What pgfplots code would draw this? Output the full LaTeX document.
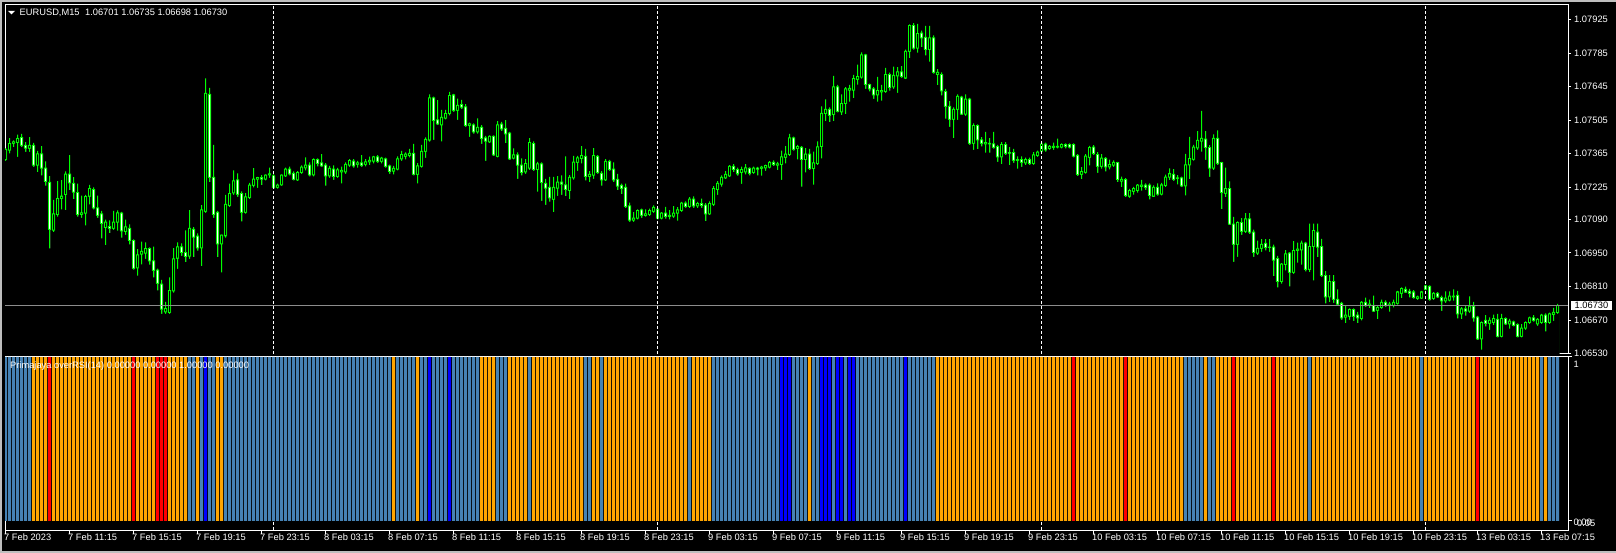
\documentclass[border=0pt]{standalone}
\usepackage{fontspec}
\setmainfont{Liberation Sans}
\usepackage{pgfplots}
\usepackage{pgfplotstable}
\pgfplotsset{compat=1.18}

\definecolor{mtlime}{RGB}{0,255,0}
\definecolor{mtsteel}{RGB}{70,130,180}
\definecolor{mtorange}{RGB}{255,165,0}
\definecolor{mtred}{RGB}{255,0,0}
\definecolor{mtblue}{RGB}{0,0,255}
\definecolor{mtgrid}{RGB}{140,140,140}
\definecolor{mtframe}{RGB}{190,190,190}
\newcommand\mt{\fontsize{9.3bp}{11bp}\selectfont}

% EURUSD M15, bar 0 = 7 Feb 07:15 ... bar 388 = 13 Feb 08:15
% k = overRSI buffer that is set (0 steel blue, 1 orange, 2 red, 3 blue), v = its value
\pgfplotstableread{
i o h l c k v
0 1.07340 1.07385 1.07337 1.07383 0 1
1 1.07380 1.07428 1.07368 1.07407 0 1
2 1.07408 1.07418 1.07394 1.07414 0 1
3 1.07411 1.07442 1.07354 1.07428 0 1
4 1.07432 1.07445 1.07394 1.07400 0 1
5 1.07400 1.07411 1.07375 1.07388 0 1
6 1.07387 1.07432 1.07375 1.07400 0 1
7 1.07400 1.07408 1.07312 1.07317 1 1
8 1.07317 1.07374 1.07290 1.07364 1 1
9 1.07364 1.07394 1.07276 1.07304 1 1
10 1.07304 1.07331 1.07233 1.07248 1 1
11 1.07245 1.07269 1.06971 1.07049 2 1
12 1.07045 1.07170 1.07039 1.07113 1 1
13 1.07110 1.07248 1.07104 1.07177 1 1
14 1.07177 1.07252 1.07134 1.07187 1 1
15 1.07194 1.07289 1.07131 1.07279 1 1
16 1.07279 1.07357 1.07215 1.07243 1 1
17 1.07241 1.07265 1.07177 1.07204 1 1
18 1.07202 1.07238 1.07104 1.07110 1 1
19 1.07110 1.07187 1.07099 1.07118 1 1
20 1.07117 1.07191 1.07067 1.07185 1 1
21 1.07187 1.07232 1.07155 1.07219 1 1
22 1.07215 1.07222 1.07134 1.07138 1 1
23 1.07138 1.07187 1.07099 1.07107 1 1
24 1.07113 1.07124 1.07013 1.07073 1 1
25 1.07056 1.07087 1.06985 1.07079 1 1
26 1.07060 1.07084 1.07035 1.07053 1 1
27 1.07053 1.07124 1.07049 1.07079 1 1
28 1.07079 1.07126 1.07045 1.07118 1 1
29 1.07117 1.07120 1.07016 1.07042 1 1
30 1.07039 1.07087 1.07028 1.07059 1 1
31 1.07053 1.07067 1.06988 1.07002 1 1
32 1.07002 1.07005 1.06883 1.06886 2 1
33 1.06888 1.06964 1.06857 1.06942 1 1
34 1.06945 1.06995 1.06905 1.06957 1 1
35 1.06949 1.06992 1.06928 1.06968 1 1
36 1.06968 1.06971 1.06903 1.06917 1 1
37 1.06917 1.06974 1.06850 1.06877 1 1
38 1.06878 1.06883 1.06796 1.06823 2 1
39 1.06820 1.06836 1.06698 1.06715 2 1
40 1.06704 1.06744 1.06698 1.06718 2 1
41 1.06701 1.06846 1.06698 1.06793 1 1
42 1.06792 1.06968 1.06786 1.06925 1 1
43 1.06928 1.06992 1.06886 1.06976 1 1
44 1.06976 1.06988 1.06940 1.06952 1 1
45 1.06951 1.07042 1.06914 1.06935 1 1
46 1.06937 1.07127 1.06928 1.07053 0 1
47 1.07049 1.07056 1.06935 1.07016 0 1
48 1.07020 1.07030 1.06962 1.06971 1 1
49 1.06971 1.07148 1.06897 1.07130 0 1
50 1.07124 1.07677 1.07120 1.07617 3 1
51 1.07613 1.07638 1.07248 1.07266 0 1
52 1.07266 1.07400 1.07099 1.07110 0 1
53 1.07120 1.07124 1.06935 1.06988 1 1
54 1.06988 1.07025 1.06871 1.07025 1 1
55 1.07022 1.07191 1.07016 1.07153 0 1
56 1.07148 1.07238 1.07144 1.07198 0 1
57 1.07201 1.07293 1.07195 1.07251 0 1
58 1.07255 1.07280 1.07187 1.07195 0 1
59 1.07198 1.07205 1.07084 1.07120 0 1
60 1.07120 1.07198 1.07116 1.07184 0 1
61 1.07181 1.07241 1.07177 1.07233 0 1
62 1.07232 1.07302 1.07226 1.07259 0 1
63 1.07259 1.07266 1.07224 1.07265 0 1
64 1.07265 1.07273 1.07236 1.07259 0 1
65 1.07259 1.07276 1.07255 1.07275 0 1
66 1.07276 1.07304 1.07266 1.07280 0 1
67 1.07272 1.07276 1.07219 1.07224 0 1
68 1.07224 1.07238 1.07221 1.07233 0 1
69 1.07235 1.07276 1.07232 1.07275 0 1
70 1.07272 1.07304 1.07269 1.07300 0 1
71 1.07300 1.07309 1.07276 1.07280 0 1
72 1.07283 1.07289 1.07255 1.07258 0 1
73 1.07255 1.07290 1.07252 1.07286 0 1
74 1.07286 1.07314 1.07283 1.07309 0 1
75 1.07306 1.07347 1.07297 1.07317 0 1
76 1.07317 1.07326 1.07272 1.07276 0 1
77 1.07276 1.07343 1.07272 1.07340 0 1
78 1.07340 1.07343 1.07314 1.07323 0 1
79 1.07326 1.07361 1.07312 1.07314 0 1
80 1.07317 1.07323 1.07233 1.07272 0 1
81 1.07272 1.07312 1.07266 1.07303 0 1
82 1.07300 1.07314 1.07258 1.07269 0 1
83 1.07269 1.07303 1.07266 1.07297 0 1
84 1.07289 1.07309 1.07243 1.07295 0 1
85 1.07289 1.07326 1.07283 1.07320 0 1
86 1.07317 1.07340 1.07312 1.07336 0 1
87 1.07334 1.07340 1.07309 1.07314 0 1
88 1.07320 1.07333 1.07309 1.07326 0 1
89 1.07326 1.07357 1.07312 1.07316 0 1
90 1.07320 1.07340 1.07314 1.07331 0 1
91 1.07331 1.07350 1.07319 1.07337 0 1
92 1.07334 1.07354 1.07326 1.07351 0 1
93 1.07351 1.07357 1.07329 1.07333 0 1
94 1.07333 1.07349 1.07326 1.07346 0 1
95 1.07343 1.07346 1.07309 1.07312 0 1
96 1.07314 1.07317 1.07283 1.07290 0 1
97 1.07292 1.07312 1.07280 1.07303 1 1
98 1.07300 1.07351 1.07297 1.07343 0 1
99 1.07343 1.07374 1.07337 1.07361 0 1
100 1.07354 1.07368 1.07343 1.07363 0 1
101 1.07357 1.07383 1.07351 1.07366 0 1
102 1.07366 1.07404 1.07276 1.07278 0 1
103 1.07278 1.07323 1.07243 1.07314 1 1
104 1.07312 1.07400 1.07309 1.07374 0 1
105 1.07374 1.07431 1.07349 1.07425 0 1
106 1.07422 1.07610 1.07417 1.07598 3 1
107 1.07598 1.07601 1.07425 1.07503 0 1
108 1.07506 1.07587 1.07486 1.07489 0 1
109 1.07485 1.07546 1.07418 1.07517 0 1
110 1.07513 1.07546 1.07510 1.07532 0 1
111 1.07532 1.07621 1.07527 1.07607 3 1
112 1.07610 1.07613 1.07542 1.07546 0 1
113 1.07546 1.07593 1.07508 1.07567 0 1
114 1.07570 1.07588 1.07553 1.07559 0 1
115 1.07560 1.07570 1.07479 1.07482 0 1
116 1.07482 1.07493 1.07437 1.07489 0 1
117 1.07485 1.07489 1.07451 1.07456 0 1
118 1.07456 1.07510 1.07451 1.07475 0 1
119 1.07475 1.07482 1.07408 1.07428 1 1
120 1.07431 1.07437 1.07337 1.07417 1 1
121 1.07414 1.07439 1.07411 1.07437 1 1
122 1.07437 1.07439 1.07357 1.07360 1 1
123 1.07354 1.07499 1.07351 1.07485 0 1
124 1.07488 1.07496 1.07461 1.07468 0 1
125 1.07471 1.07503 1.07411 1.07448 0 1
126 1.07451 1.07454 1.07340 1.07343 1 1
127 1.07346 1.07385 1.07343 1.07360 1 1
128 1.07360 1.07368 1.07262 1.07317 1 1
129 1.07317 1.07343 1.07276 1.07286 1 1
130 1.07289 1.07340 1.07283 1.07323 1 1
131 1.07305 1.07428 1.07298 1.07411 0 1
132 1.07407 1.07414 1.07295 1.07298 1 1
133 1.07298 1.07329 1.07208 1.07322 1 1
134 1.07322 1.07326 1.07170 1.07244 1 1
135 1.07241 1.07258 1.07153 1.07221 1 1
136 1.07224 1.07266 1.07167 1.07180 1 1
137 1.07174 1.07266 1.07123 1.07224 1 1
138 1.07221 1.07269 1.07191 1.07246 1 1
139 1.07246 1.07272 1.07195 1.07238 1 1
140 1.07235 1.07352 1.07190 1.07215 1 1
141 1.07210 1.07273 1.07177 1.07266 1 1
142 1.07264 1.07354 1.07259 1.07330 1 1
143 1.07329 1.07354 1.07295 1.07347 1 1
144 1.07344 1.07394 1.07326 1.07357 1 1
145 1.07354 1.07383 1.07255 1.07269 0 1
146 1.07269 1.07290 1.07248 1.07278 0 1
147 1.07275 1.07386 1.07262 1.07357 1 1
148 1.07354 1.07357 1.07283 1.07286 1 1
149 1.07283 1.07290 1.07234 1.07255 0 1
150 1.07255 1.07340 1.07252 1.07333 1 1
151 1.07333 1.07337 1.07295 1.07298 1 1
152 1.07300 1.07326 1.07248 1.07255 1 1
153 1.07258 1.07278 1.07215 1.07229 1 1
154 1.07232 1.07238 1.07198 1.07219 1 1
155 1.07224 1.07238 1.07139 1.07144 1 1
156 1.07147 1.07158 1.07082 1.07087 1 1
157 1.07087 1.07119 1.07082 1.07096 1 1
158 1.07096 1.07130 1.07093 1.07127 1 1
159 1.07130 1.07133 1.07099 1.07107 1 1
160 1.07106 1.07130 1.07104 1.07113 1 1
161 1.07110 1.07133 1.07106 1.07127 1 1
162 1.07124 1.07147 1.07120 1.07141 1 1
163 1.07133 1.07136 1.07092 1.07096 1 1
164 1.07096 1.07119 1.07093 1.07116 1 1
165 1.07116 1.07141 1.07096 1.07102 1 1
166 1.07102 1.07127 1.07093 1.07107 1 1
167 1.07104 1.07144 1.07099 1.07116 1 1
168 1.07116 1.07139 1.07087 1.07130 1 1
169 1.07127 1.07161 1.07124 1.07158 1 1
170 1.07158 1.07163 1.07141 1.07144 1 1
171 1.07144 1.07181 1.07139 1.07175 0 1
172 1.07175 1.07184 1.07141 1.07147 1 1
173 1.07147 1.07161 1.07139 1.07156 1 1
174 1.07156 1.07175 1.07141 1.07148 1 1
175 1.07150 1.07156 1.07085 1.07113 1 1
176 1.07113 1.07163 1.07110 1.07156 1 1
177 1.07153 1.07227 1.07148 1.07219 0 1
178 1.07215 1.07248 1.07195 1.07241 0 1
179 1.07238 1.07272 1.07229 1.07266 0 1
180 1.07264 1.07290 1.07261 1.07278 0 1
181 1.07272 1.07315 1.07269 1.07312 0 1
182 1.07312 1.07319 1.07290 1.07298 0 1
183 1.07298 1.07305 1.07275 1.07281 0 1
184 1.07286 1.07309 1.07241 1.07298 0 1
185 1.07289 1.07319 1.07281 1.07306 0 1
186 1.07303 1.07306 1.07276 1.07283 0 1
187 1.07286 1.07309 1.07283 1.07305 0 1
188 1.07305 1.07308 1.07276 1.07300 0 1
189 1.07303 1.07312 1.07275 1.07309 0 1
190 1.07306 1.07317 1.07295 1.07315 0 1
191 1.07309 1.07332 1.07306 1.07329 0 1
192 1.07329 1.07335 1.07315 1.07319 0 1
193 1.07317 1.07329 1.07298 1.07322 0 1
194 1.07319 1.07376 1.07258 1.07352 3 1
195 1.07349 1.07394 1.07326 1.07363 3 1
196 1.07361 1.07445 1.07357 1.07431 3 1
197 1.07431 1.07434 1.07380 1.07383 0 1
198 1.07386 1.07400 1.07343 1.07394 0 1
199 1.07391 1.07394 1.07229 1.07340 0 1
200 1.07340 1.07386 1.07289 1.07363 0 1
201 1.07363 1.07383 1.07298 1.07302 1 1
202 1.07302 1.07371 1.07238 1.07326 0 1
203 1.07323 1.07414 1.07319 1.07393 0 1
204 1.07394 1.07560 1.07347 1.07533 3 1
205 1.07532 1.07590 1.07503 1.07550 3 1
206 1.07550 1.07556 1.07499 1.07525 3 1
207 1.07528 1.07688 1.07503 1.07644 0 1
208 1.07644 1.07650 1.07539 1.07542 3 1
209 1.07539 1.07610 1.07528 1.07574 3 1
210 1.07574 1.07641 1.07532 1.07636 0 1
211 1.07630 1.07650 1.07584 1.07638 3 1
212 1.07630 1.07692 1.07599 1.07678 3 1
213 1.07675 1.07735 1.07655 1.07687 0 1
214 1.07685 1.07786 1.07681 1.07778 0 1
215 1.07778 1.07780 1.07638 1.07653 0 1
216 1.07653 1.07655 1.07627 1.07636 0 1
217 1.07636 1.07641 1.07596 1.07610 0 1
218 1.07610 1.07684 1.07584 1.07628 0 1
219 1.07623 1.07650 1.07589 1.07628 0 1
220 1.07624 1.07721 1.07621 1.07695 0 1
221 1.07695 1.07701 1.07630 1.07641 0 1
222 1.07644 1.07726 1.07638 1.07692 0 1
223 1.07690 1.07724 1.07621 1.07707 0 1
224 1.07707 1.07729 1.07684 1.07687 0 1
225 1.07681 1.07797 1.07678 1.07792 3 1
226 1.07792 1.07903 1.07766 1.07900 0 1
227 1.07900 1.07908 1.07802 1.07806 0 1
228 1.07806 1.07905 1.07789 1.07866 0 1
229 1.07868 1.07877 1.07812 1.07849 0 1
230 1.07851 1.07897 1.07778 1.07800 0 1
231 1.07800 1.07897 1.07752 1.07849 0 1
232 1.07849 1.07857 1.07701 1.07705 0 1
233 1.07695 1.07716 1.07653 1.07704 1 1
234 1.07695 1.07702 1.07610 1.07627 1 1
235 1.07624 1.07633 1.07513 1.07562 1 1
236 1.07562 1.07582 1.07479 1.07508 1 1
237 1.07508 1.07556 1.07432 1.07550 1 1
238 1.07550 1.07610 1.07508 1.07604 1 1
239 1.07601 1.07604 1.07528 1.07530 1 1
240 1.07530 1.07610 1.07525 1.07593 1 1
241 1.07593 1.07596 1.07404 1.07408 1 1
242 1.07408 1.07489 1.07383 1.07482 1 1
243 1.07482 1.07485 1.07386 1.07423 1 1
244 1.07423 1.07432 1.07397 1.07408 1 1
245 1.07406 1.07454 1.07371 1.07411 1 1
246 1.07408 1.07428 1.07371 1.07406 1 1
247 1.07406 1.07454 1.07388 1.07391 1 1
248 1.07394 1.07400 1.07333 1.07352 1 1
249 1.07352 1.07411 1.07323 1.07403 1 1
250 1.07403 1.07411 1.07361 1.07366 1 1
251 1.07366 1.07390 1.07319 1.07369 1 1
252 1.07369 1.07383 1.07329 1.07337 1 1
253 1.07336 1.07352 1.07305 1.07340 1 1
254 1.07340 1.07352 1.07312 1.07329 1 1
255 1.07326 1.07346 1.07319 1.07340 1 1
256 1.07340 1.07346 1.07319 1.07323 1 1
257 1.07323 1.07369 1.07320 1.07360 1 1
258 1.07357 1.07376 1.07354 1.07371 1 1
259 1.07376 1.07412 1.07372 1.07405 1 1
260 1.07405 1.07409 1.07376 1.07381 1 1
261 1.07386 1.07398 1.07383 1.07395 1 1
262 1.07390 1.07409 1.07383 1.07395 1 1
263 1.07392 1.07426 1.07389 1.07395 1 1
264 1.07392 1.07406 1.07389 1.07403 1 1
265 1.07403 1.07406 1.07389 1.07395 1 1
266 1.07403 1.07406 1.07389 1.07392 1 1
267 1.07403 1.07406 1.07352 1.07355 2 1
268 1.07358 1.07361 1.07273 1.07277 1 1
269 1.07278 1.07307 1.07261 1.07290 1 1
270 1.07287 1.07361 1.07284 1.07355 1 1
271 1.07349 1.07395 1.07318 1.07390 1 1
272 1.07392 1.07398 1.07361 1.07365 1 1
273 1.07361 1.07369 1.07287 1.07312 1 1
274 1.07312 1.07361 1.07304 1.07346 1 1
275 1.07345 1.07348 1.07293 1.07310 1 1
276 1.07310 1.07338 1.07301 1.07319 1 1
277 1.07317 1.07335 1.07312 1.07329 1 1
278 1.07327 1.07329 1.07248 1.07256 1 1
279 1.07250 1.07267 1.07227 1.07258 1 1
280 1.07256 1.07261 1.07185 1.07190 2 1
281 1.07187 1.07216 1.07182 1.07210 1 1
282 1.07207 1.07224 1.07196 1.07219 1 1
283 1.07210 1.07236 1.07204 1.07233 1 1
284 1.07227 1.07253 1.07213 1.07233 1 1
285 1.07233 1.07239 1.07216 1.07224 1 1
286 1.07233 1.07239 1.07176 1.07190 1 1
287 1.07187 1.07230 1.07185 1.07224 1 1
288 1.07224 1.07239 1.07192 1.07196 1 1
289 1.07196 1.07241 1.07193 1.07234 1 1
290 1.07231 1.07275 1.07227 1.07267 1 1
291 1.07267 1.07301 1.07256 1.07281 1 1
292 1.07278 1.07298 1.07253 1.07258 1 1
293 1.07261 1.07273 1.07239 1.07264 1 1
294 1.07264 1.07267 1.07227 1.07230 1 1
295 1.07230 1.07362 1.07193 1.07318 0 1
296 1.07318 1.07433 1.07261 1.07344 0 1
297 1.07341 1.07400 1.07338 1.07392 0 1
298 1.07389 1.07457 1.07383 1.07420 0 1
299 1.07417 1.07542 1.07376 1.07429 0 1
300 1.07426 1.07457 1.07341 1.07390 1 1
301 1.07390 1.07398 1.07270 1.07304 0 1
302 1.07304 1.07443 1.07298 1.07429 0 1
303 1.07429 1.07460 1.07319 1.07324 1 1
304 1.07327 1.07329 1.07135 1.07202 1 1
305 1.07199 1.07304 1.07185 1.07219 1 1
306 1.07219 1.07247 1.07068 1.07071 1 1
307 1.07071 1.07099 1.06915 1.06986 2 1
308 1.06986 1.07080 1.06936 1.07077 1 1
309 1.07077 1.07094 1.07028 1.07040 1 1
310 1.07040 1.07114 1.07035 1.07092 1 1
311 1.07092 1.07114 1.07031 1.07037 1 1
312 1.07037 1.07045 1.06936 1.06952 1 1
313 1.06949 1.07000 1.06943 1.06969 1 1
314 1.06969 1.07006 1.06957 1.06986 1 1
315 1.06990 1.07006 1.06963 1.06972 1 1
316 1.06972 1.07006 1.06957 1.06974 1 1
317 1.06974 1.06983 1.06855 1.06920 2 1
318 1.06926 1.06936 1.06808 1.06830 1 1
319 1.06830 1.06906 1.06824 1.06903 1 1
320 1.06901 1.06960 1.06879 1.06946 1 1
321 1.06949 1.06952 1.06813 1.06869 1 1
322 1.06869 1.06997 1.06865 1.06960 1 1
323 1.06960 1.06991 1.06912 1.06966 1 1
324 1.06963 1.07000 1.06903 1.06991 1 1
325 1.06991 1.06994 1.06875 1.06881 1 1
326 1.06881 1.07071 1.06872 1.06977 0 1
327 1.06977 1.07071 1.06838 1.07043 1 1
328 1.07037 1.07071 1.06935 1.06974 1 1
329 1.06977 1.07007 1.06851 1.06855 1 1
330 1.06855 1.06872 1.06742 1.06767 1 1
331 1.06767 1.06855 1.06747 1.06830 1 1
332 1.06830 1.06855 1.06744 1.06756 1 1
333 1.06756 1.06796 1.06730 1.06736 1 1
334 1.06739 1.06744 1.06673 1.06679 1 1
335 1.06682 1.06730 1.06659 1.06690 1 1
336 1.06685 1.06716 1.06673 1.06713 1 1
337 1.06713 1.06716 1.06668 1.06685 1 1
338 1.06690 1.06702 1.06659 1.06679 1 1
339 1.06676 1.06747 1.06671 1.06744 1 1
340 1.06744 1.06761 1.06727 1.06730 1 1
341 1.06730 1.06753 1.06722 1.06736 1 1
342 1.06730 1.06770 1.06705 1.06707 1 1
343 1.06710 1.06727 1.06676 1.06722 1 1
344 1.06722 1.06753 1.06719 1.06744 1 1
345 1.06744 1.06750 1.06727 1.06730 1 1
346 1.06730 1.06744 1.06707 1.06736 1 1
347 1.06730 1.06753 1.06725 1.06744 1 1
348 1.06739 1.06790 1.06736 1.06787 1 1
349 1.06781 1.06804 1.06764 1.06801 1 1
350 1.06798 1.06807 1.06784 1.06787 1 1
351 1.06790 1.06798 1.06767 1.06781 1 1
352 1.06787 1.06793 1.06761 1.06764 1 1
353 1.06759 1.06770 1.06756 1.06767 1 1
354 1.06761 1.06790 1.06759 1.06787 0 1
355 1.06798 1.06815 1.06796 1.06813 1 1
356 1.06810 1.06813 1.06753 1.06756 1 1
357 1.06759 1.06784 1.06756 1.06781 1 1
358 1.06781 1.06784 1.06764 1.06767 1 1
359 1.06764 1.06770 1.06710 1.06750 1 1
360 1.06750 1.06787 1.06744 1.06761 1 1
361 1.06753 1.06787 1.06750 1.06770 1 1
362 1.06767 1.06796 1.06753 1.06770 1 1
363 1.06773 1.06790 1.06679 1.06696 1 1
364 1.06696 1.06722 1.06676 1.06716 1 1
365 1.06716 1.06730 1.06690 1.06707 1 1
366 1.06707 1.06767 1.06702 1.06727 1 1
367 1.06727 1.06744 1.06665 1.06679 1 1
368 1.06682 1.06685 1.06588 1.06591 2 1
369 1.06591 1.06662 1.06548 1.06659 1 1
370 1.06668 1.06688 1.06645 1.06656 1 1
371 1.06656 1.06679 1.06631 1.06668 1 1
372 1.06659 1.06690 1.06651 1.06676 1 1
373 1.06673 1.06693 1.06600 1.06602 1 1
374 1.06602 1.06693 1.06600 1.06676 1 1
375 1.06676 1.06679 1.06651 1.06654 1 1
376 1.06654 1.06673 1.06636 1.06665 1 1
377 1.06662 1.06665 1.06645 1.06648 1 1
378 1.06651 1.06654 1.06600 1.06602 1 1
379 1.06602 1.06651 1.06600 1.06636 1 1
380 1.06636 1.06662 1.06631 1.06659 1 1
381 1.06659 1.06682 1.06656 1.06679 1 1
382 1.06679 1.06688 1.06665 1.06668 1 1
383 1.06654 1.06676 1.06648 1.06673 1 1
384 1.06659 1.06693 1.06656 1.06690 0 1
385 1.06690 1.06696 1.06625 1.06659 1 1
386 1.06659 1.06699 1.06656 1.06696 0 1
387 1.06693 1.06719 1.06668 1.06702 0 1
388 1.06701 1.06735 1.06698 1.06730 0 1
}\bars

\pgfplotsset{
  mtpanel/.style={
    scale only axis, width=1563bp,
    xmin=-0.125, xmax=390.625,
    axis line style={white, line width=1bp},
    tick style={white, line width=1bp},
    tick align=outside,
    major tick length=3bp,
  },
  % one column of a candle: a bar from the base up to a level, later bars paint over earlier ones
  col/.style 2 args={ybar, bar width=#1, bar shift=0bp, draw=none, fill=#2},
}
% the price window plots price minus 1.065, so that bars rise from just below its lower edge
\def\pbase{1.065}

\begin{document}
\begin{tikzpicture}
\fill[black] (0bp,0bp) rectangle (1616bp,553bp);
\path[use as bounding box] (0bp,0bp) rectangle (1616bp,553bp);
\fill[mtframe] (0bp,551bp) rectangle (1616bp,553bp);
\fill[mtframe] (0bp,0bp) rectangle (1616bp,2bp);
\fill[mtframe] (0bp,0bp) rectangle (1.5bp,553bp);

% price window
\begin{axis}[mtpanel,
  at={(5bp,199bp)}, anchor=south west, height=349bp,
  ymin=0.00028, ymax=0.01486,
  xtick=\empty,
  ytick={0.01425,0.01285,0.01145,0.01005,0.00865,0.00725,0.00590,0.00450,0.00310,0.00170,0.00030},
  yticklabels={1.07925,1.07785,1.07645,1.07505,1.07365,1.07225,1.07090,1.06950,1.06810,1.06670,1.06530},
  ytick pos=right, yticklabel pos=right,
  yticklabel style={font=\mt, text=white, anchor=west, inner sep=0pt, xshift=3bp},
]
  % body sides up to the body top, wick up to the high
  \addplot[col={3bp}{mtlime}] table[x=i, y expr={max(\thisrow{o},\thisrow{c})-\pbase+0.000021}]{\bars};
  \addplot[col={1bp}{mtlime}] table[x=i, y expr={\thisrow{h}-\pbase+0.000021}]{\bars};
  % clear below the body bottom
  \addplot[col={3.9bp}{black}] table[x=i, y expr={min(\thisrow{o},\thisrow{c})-\pbase-0.000021}]{\bars};
  % inside of the body: white for bear, black for bull candles
  \addplot[col={1bp}{white}] table[x=i, y expr={(\thisrow{o}>\thisrow{c})*(\thisrow{o}-\pbase-0.000021)}]{\bars};
  \addplot[col={1bp}{black}] table[x=i, y expr={(\thisrow{c}>\thisrow{o})*(\thisrow{c}-\pbase-0.000021)}]{\bars};
  % body bottom and lower wick, then clear below the low
  \addplot[col={1bp}{mtlime}] table[x=i, y expr={min(\thisrow{o},\thisrow{c})-\pbase+0.000021}]{\bars};
  \addplot[col={3.9bp}{black}] table[x=i, y expr={\thisrow{l}-\pbase-0.000021}]{\bars};

  \pgfplotsinvokeforeach{67,163,259,355}{
    \draw[white, line width=1bp, dash pattern=on 3bp off 2bp] (axis cs:#1,0.00028) -- (axis cs:#1,0.01486);
  }
  \draw[mtgrid, line width=1bp] (axis cs:-0.125,0.00230) -- (axis cs:390.625,0.00230);
\end{axis}

% indicator window
\begin{axis}[mtpanel,
  at={(5bp,23bp)}, anchor=south west, height=173.5bp,
  ymin=-0.0549, ymax=1.003,
  ytick={0,1}, yticklabel=\empty, ytick pos=right,
  xtick={0,16,...,384}, xtick pos=bottom,
  major tick length=4bp,
  xticklabels={7 Feb 2023,7 Feb 11:15,7 Feb 15:15,7 Feb 19:15,7 Feb 23:15,8 Feb 03:15,8 Feb 07:15,8 Feb 11:15,8 Feb 15:15,8 Feb 19:15,8 Feb 23:15,9 Feb 03:15,9 Feb 07:15,9 Feb 11:15,9 Feb 15:15,9 Feb 19:15,9 Feb 23:15,10 Feb 03:15,10 Feb 07:15,10 Feb 11:15,10 Feb 15:15,10 Feb 19:15,10 Feb 23:15,13 Feb 03:15,13 Feb 07:15},
  xticklabel style={font=\mt, text=white, anchor=north west, inner sep=0pt, xshift=-1.5bp},
]
  \pgfplotsinvokeforeach{67,163,259,355}{
    \draw[white, line width=1bp, dash pattern=on 3bp off 2bp] (axis cs:#1,-0.0549) -- (axis cs:#1,1.003);
  }
  \addplot[col={3bp}{mtsteel}, restrict expr to domain={\thisrow{k}}{-0.5:0.5}] table[x=i, y=v]{\bars};
  \addplot[col={3bp}{mtorange}, restrict expr to domain={\thisrow{k}}{0.5:1.5}] table[x=i, y=v]{\bars};
  \addplot[col={3bp}{mtred}, restrict expr to domain={\thisrow{k}}{1.5:2.5}] table[x=i, y=v]{\bars};
  \addplot[col={3bp}{mtblue}, restrict expr to domain={\thisrow{k}}{2.5:3.5}] table[x=i, y=v]{\bars};
\end{axis}

% texts
\fill[white] (8bp,542bp) -- (15bp,542bp) -- (11.5bp,538.5bp) -- cycle;
\node[font=\mt, text=white, anchor=base west, inner sep=0pt] at (19.5bp,537bp)
  {EURUSD,M15\hspace{5.5bp}1.06701 1.06735 1.06698 1.06730};
\node[font=\mt, text=white, anchor=base west, inner sep=0pt] at (10bp,184bp)
  {Primajaya overRSI(14) 0.00000 0.00000 1.00000 0.00000};
\node[font=\mt, fill=white, text=black, anchor=west, inner xsep=3.5bp, inner ysep=1.7bp] at (1571bp,247.5bp) {1.06730};
\node[font=\mt, text=white, anchor=west, inner sep=0pt] at (1573.5bp,189bp) {1};
\node[font=\mt, text=white, anchor=west, inner sep=0pt] at (1573.5bp,30.5bp) {0.00};
\node[font=\mt, text=white, anchor=west, inner sep=0pt] at (1577bp,30bp) {0.05};
\end{tikzpicture}
\end{document}
